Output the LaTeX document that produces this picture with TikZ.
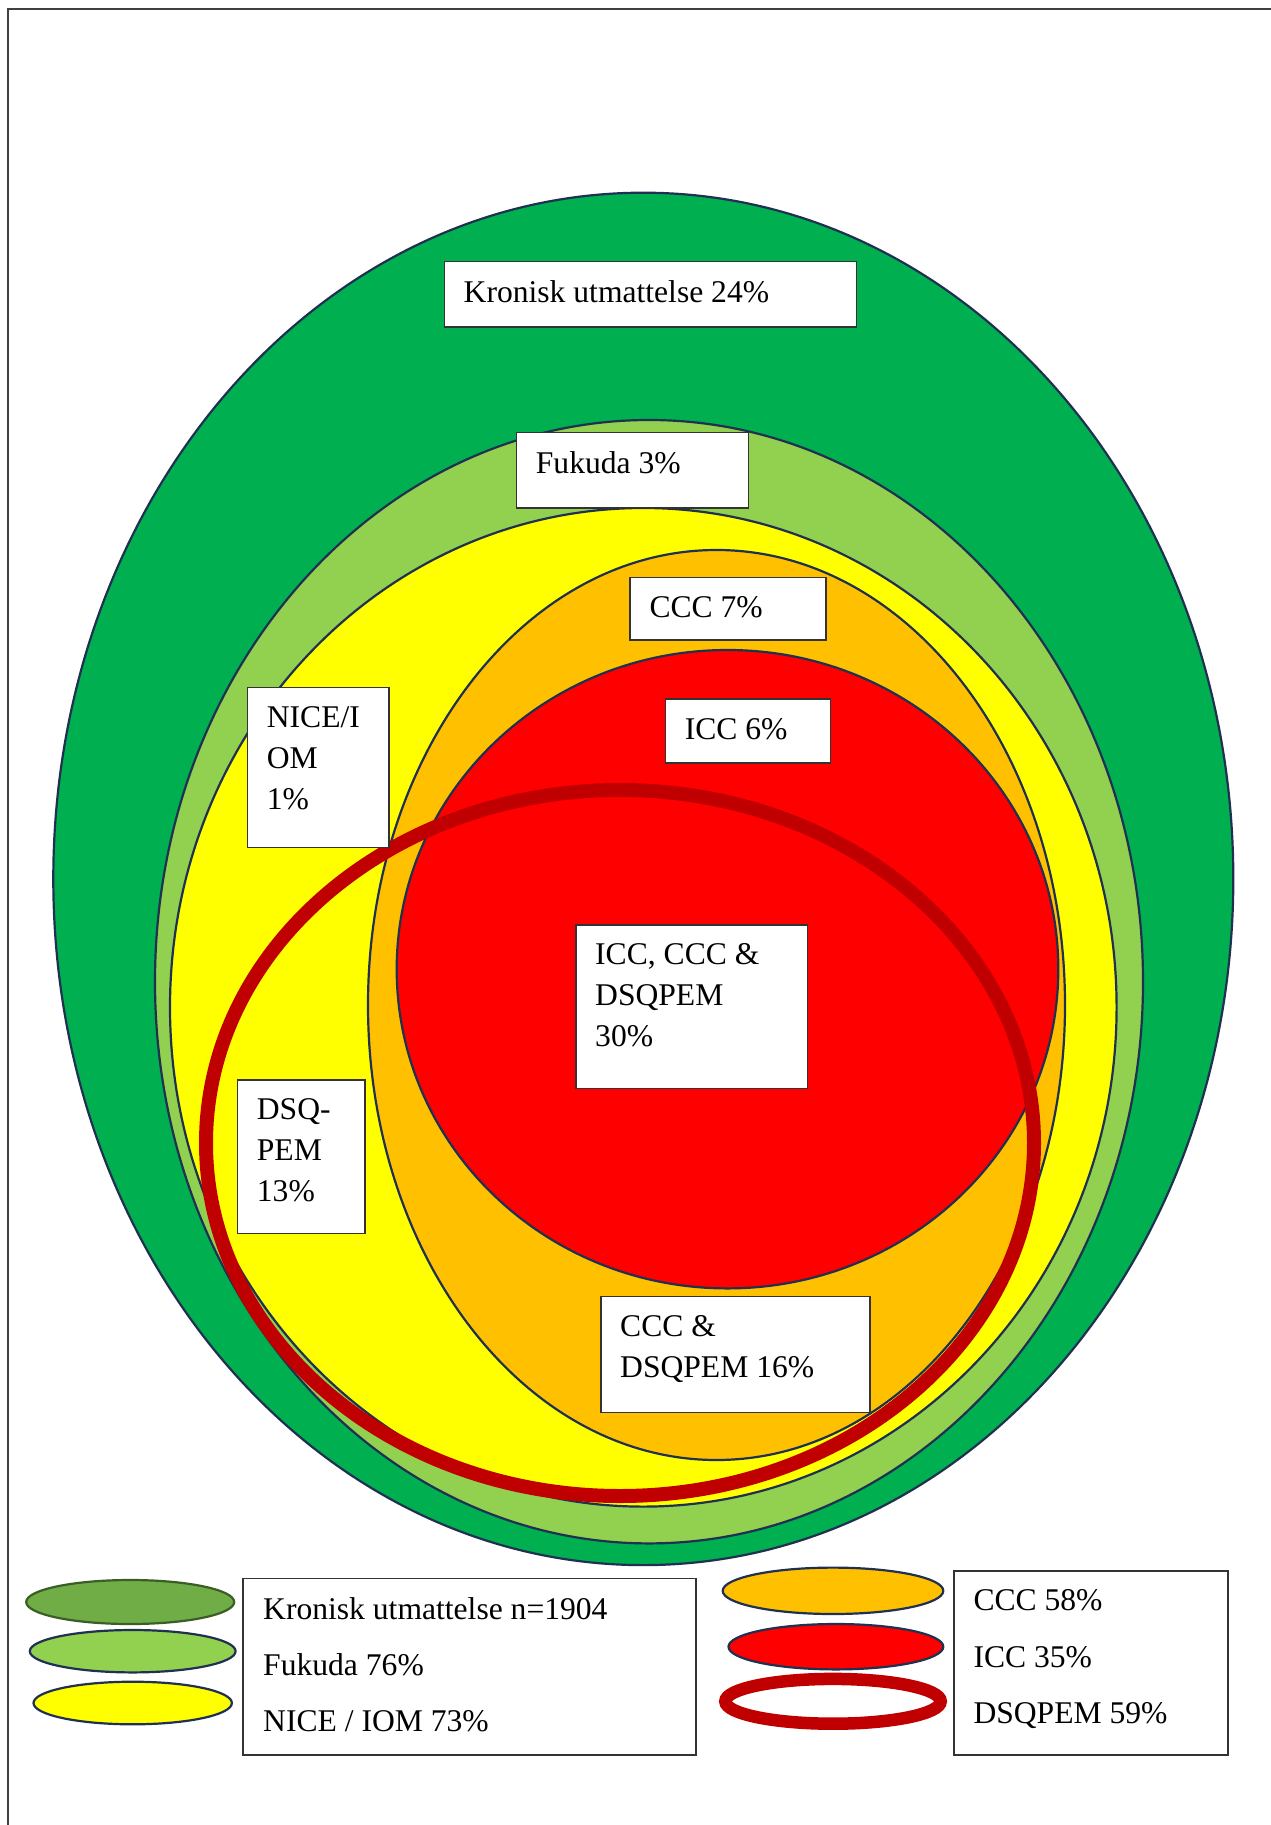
\documentclass[tikz,border=0pt]{standalone}
\usepackage{fontspec}
\setmainfont{Liberation Serif}
\definecolor{darkgreen}{HTML}{00B050}
\definecolor{lightgreen}{HTML}{92D050}
\definecolor{olivegreen}{HTML}{70AD47}
\definecolor{oliveedge}{HTML}{3A5E25}
\definecolor{niceyellow}{HTML}{FFFF00}
\definecolor{cccorange}{HTML}{FFC000}
\definecolor{iccred}{HTML}{FF0000}
\definecolor{dsqred}{HTML}{C00000}
\definecolor{setedge}{HTML}{1F3050}

\begin{document}
\begin{tikzpicture}
  [x=1pt,y=-1pt,
   setE/.style={draw=setedge,line width=2.2pt},
   ringE/.style={draw=dsqred,line width=14pt},
   boxN/.style={draw=black!80,line width=1.5pt,fill=white,anchor=north west,inner sep=0pt},
   txtN/.style={anchor=north west,inner sep=0pt,align=left,font=\fontsize{31.6}{41}\selectfont},
   legN/.style={txtN,font=\fontsize{31.6}{56.3}\selectfont},
  ]

 \useasboundingbox (0,0) rectangle (1271,1825);
 \fill[white] (0,0) rectangle (1271,1825);
 \draw[black!75,line width=2pt] (7.5,1825) -- (7.5,9.5) -- (1271,9.5);

 % nested sets
 \draw[setE,fill=darkgreen]  (643.3,878.9)  ellipse [x radius=590,y radius=686.2];
 \draw[setE,fill=lightgreen] (649,981.7)    ellipse [x radius=494,y radius=561.7];
 \draw[setE,fill=niceyellow] (643.3,1007.3) ellipse [x radius=473.3,y radius=499.3];
 \draw[setE,fill=cccorange]  (716.5,1005)   ellipse [x radius=348.5,y radius=455];
 \draw[setE,fill=iccred]     (727.5,969.2)  ellipse [x radius=330.8,y radius=319.2];
 \draw[ringE]                (620,1143)     ellipse [x radius=414,y radius=353];

 % labels
 \node[boxN,minimum width=412pt,minimum height=65.3pt] (kronB) at (443.5,260.7) {};
 \node[txtN] (kronT) at ([xshift=20pt,yshift=-19.5pt]kronB.north west) {Kronisk utmattelse 24\%};

 \node[boxN,minimum width=232pt,minimum height=75.6pt] (fukB) at (515.7,431.7) {};
 \node[txtN] (fukT) at ([xshift=20pt,yshift=-19.5pt]fukB.north west) {Fukuda 3\%};

 \node[boxN,minimum width=195.7pt,minimum height=62.3pt] (cccB) at (629.3,576.7) {};
 \node[txtN] (cccT) at ([xshift=20pt,yshift=-19.5pt]cccB.north west) {CCC 7\%};

 \node[boxN,minimum width=165.3pt,minimum height=64pt] (iccB) at (664.6,698.4) {};
 \node[txtN] (iccT) at ([xshift=20pt,yshift=-19.5pt]iccB.north west) {ICC 6\%};

 \node[boxN,minimum width=141.6pt,minimum height=160pt] (niceB) at (246.7,686.7) {};
 \node[txtN] (niceT) at ([xshift=20pt,yshift=-19.5pt]niceB.north west) {NICE/I\\OM\\1\%};

 \node[boxN,minimum width=231.7pt,minimum height=163.7pt] (allB) at (575,924) {};
 \node[txtN] (allT) at ([xshift=20pt,yshift=-19.5pt]allB.north west) {ICC, CCC \&\\DSQPEM\\30\%};

 \node[boxN,minimum width=127.6pt,minimum height=153.3pt] (dsqB) at (236.7,1079.3) {};
 \node[txtN] (dsqT) at ([xshift=20pt,yshift=-19.5pt]dsqB.north west) {DSQ-\\PEM\\13\%};

 \node[boxN,minimum width=269.3pt,minimum height=116pt] (cdB) at (600,1295.7) {};
 \node[txtN] (cdT) at ([xshift=20pt,yshift=-19.5pt]cdB.north west) {CCC \&\\DSQPEM 16\%};

 % legend
 \draw[line width=2.2pt,draw=oliveedge,fill=olivegreen] (130.2,1602) ellipse [x radius=104,y radius=22];
 \draw[setE,fill=lightgreen] (132.7,1651.2) ellipse [x radius=102.9,y radius=21.2];
 \draw[setE,fill=niceyellow] (132.7,1703)   ellipse [x radius=99.2,y radius=21.3];
 \node[boxN,minimum width=453pt,minimum height=176.6pt] (legL) at (242,1577.7) {};
 \node[legN] (legLT) at ([xshift=21pt,yshift=-19.5pt]legL.north west)
   {Kronisk utmattelse n=1904\\Fukuda 76\%\\NICE / IOM 73\%};

 \draw[setE,fill=cccorange] (833,1590.8)   ellipse [x radius=110.3,y radius=23.2];
 \draw[setE,fill=iccred]    (835.9,1646.7) ellipse [x radius=107.4,y radius=22.7];
 \draw[draw=dsqred,line width=12.5pt] (833,1701.3) ellipse [x radius=107.7,y radius=22.4];
 \node[boxN,minimum width=273.7pt,minimum height=184.3pt] (legR) at (953.3,1570) {};
 \node[legN] (legRT) at ([xshift=20pt,yshift=-19.5pt]legR.north west)
   {CCC 58\%\\ICC 35\%\\DSQPEM 59\%};

\end{tikzpicture}
\end{document}
